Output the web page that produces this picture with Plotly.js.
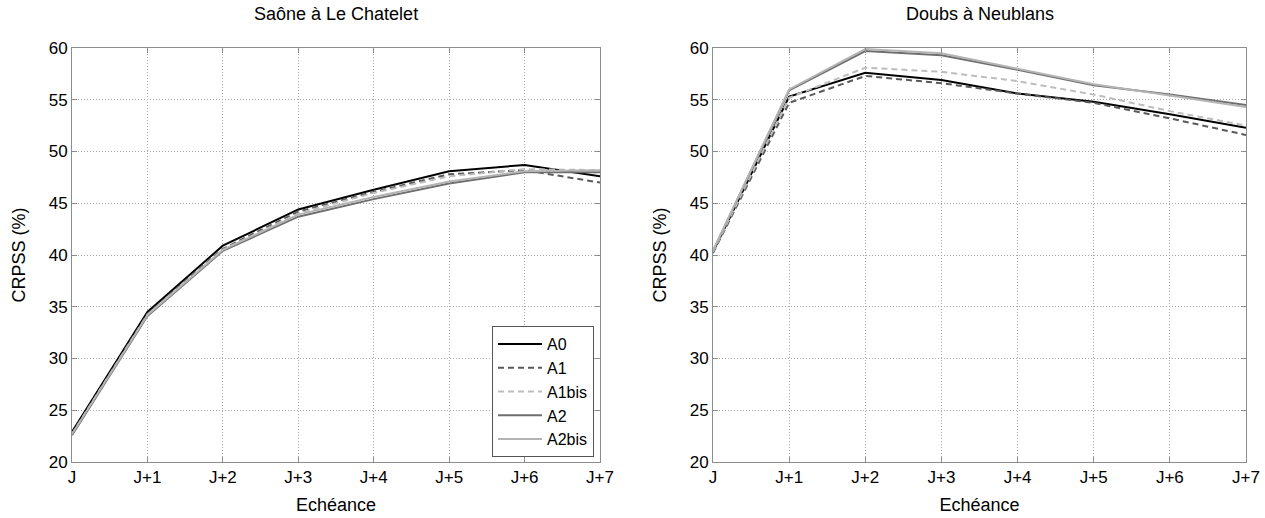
<!DOCTYPE html>
<html>
<head>
<meta charset="utf-8">
<script src="https://cdn.plot.ly/plotly-3.0.1.min.js"></script>
<style>html,body{margin:0;padding:0;background:#fff;}#chart{width:1265px;height:518px;}</style>
</head>
<body>
<div id="chart"></div>
<script>
// ---- data ----
const echeances = ["J", "J+1", "J+2", "J+3", "J+4", "J+5", "J+6", "J+7"];
const seriesNames = ["A0", "A1", "A1bis", "A2", "A2bis"];
const panelTitles = ["Saône à Le Chatelet", "Doubs à Neublans"];

// Saône à Le Chatelet
const saone_A0    = [22.9, 34.5, 40.9, 44.4, 46.3, 48.1, 48.7, 47.6];
const saone_A1    = [22.7, 34.3, 40.6, 44.2, 46.1, 47.8, 48.2, 47.0];
const saone_A1bis = [22.7, 34.2, 40.5, 44.0, 46.0, 47.6, 48.3, 48.2];
const saone_A2    = [22.6, 34.1, 40.4, 43.7, 45.4, 46.9, 48.0, 48.0];
const saone_A2bis = [22.7, 34.2, 40.5, 43.9, 45.6, 47.1, 48.1, 48.2];

// Doubs à Neublans
const doubs_A0    = [40.3, 55.3, 57.6, 56.9, 55.6, 54.8, 53.6, 52.3];
const doubs_A1    = [40.2, 54.7, 57.3, 56.6, 55.6, 54.7, 53.2, 51.6];
const doubs_A1bis = [40.3, 55.2, 58.1, 57.7, 56.8, 55.5, 53.9, 52.5];
const doubs_A2    = [40.4, 55.9, 59.7, 59.3, 57.9, 56.4, 55.5, 54.5];
const doubs_A2bis = [40.4, 56.0, 59.9, 59.5, 58.0, 56.5, 55.4, 54.3];

const yTicks = [20, 25, 30, 35, 40, 45, 50, 55, 60];

// ---- styles ----
const styles = {
  "A0":    {color: "#000000", dash: "solid"},
  "A1":    {color: "#5a5a5a", dash: "6px,4px"},
  "A1bis": {color: "#bdbdbd", dash: "6px,4px"},
  "A2":    {color: "#6e6e6e", dash: "solid"},
  "A2bis": {color: "#b4b4b4", dash: "solid"}
};

const saone = [saone_A0, saone_A1, saone_A1bis, saone_A2, saone_A2bis];
const doubs = [doubs_A0, doubs_A1, doubs_A1bis, doubs_A2, doubs_A2bis];
const xIdx = echeances.map((_, i) => i);

const traces = [];
seriesNames.forEach((name, k) => {
  traces.push({
    x: xIdx, y: saone[k], type: "scatter", mode: "lines", name: name,
    xaxis: "x", yaxis: "y", showlegend: true,
    line: {color: styles[name].color, dash: styles[name].dash, width: 2}
  });
});
seriesNames.forEach((name, k) => {
  traces.push({
    x: xIdx, y: doubs[k], type: "scatter", mode: "lines", name: name,
    xaxis: "x2", yaxis: "y2", showlegend: false,
    line: {color: styles[name].color, dash: styles[name].dash, width: 2}
  });
});

const W = 1265, H = 518;
const fontFam = "Liberation Sans, Arial, Helvetica, sans-serif";
const yTop = 1 - 48 / H, yBot = 1 - 462 / H;
const tickFont = {family: fontFam, size: 17, color: "#000"};
const labFont = {family: fontFam, size: 18, color: "#000"};

function xa(domain) {
  return {
    domain: domain, range: [0, 7], tickmode: "array", tickvals: xIdx, ticktext: echeances,
    showgrid: true, gridcolor: "#a8a8a8", griddash: "1px,2px", gridwidth: 1,
    showline: true, linecolor: "#8c8c8c", linewidth: 1, mirror: "ticks",
    ticks: "inside", ticklen: 5, tickcolor: "#8c8c8c",
    zeroline: false, fixedrange: true,
    tickfont: tickFont,
    title: {text: "Echéance", font: labFont, standoff: 11}
  };
}
function ya(anchor) {
  return {
    domain: [yBot, yTop], range: [20, 60], tickmode: "array", tickvals: yTicks,
    showgrid: true, gridcolor: "#a8a8a8", griddash: "1px,2px", gridwidth: 1,
    showline: true, linecolor: "#8c8c8c", linewidth: 1, mirror: "ticks",
    ticks: "inside", ticklen: 5, tickcolor: "#8c8c8c",
    zeroline: false, fixedrange: true, anchor: anchor,
    tickfont: tickFont,
    title: {text: "CRPSS (%)", font: labFont, standoff: 18}
  };
}

const lx0 = 72 / W, lx1 = 600 / W, rx0 = 713 / W, rx1 = 1246 / W;

const layout = {
  width: W, height: H,
  margin: {l: 0, r: 0, t: 0, b: 0},
  paper_bgcolor: "#fff", plot_bgcolor: "#fff",
  font: {family: fontFam, size: 16, color: "#000"},
  xaxis: Object.assign(xa([lx0, lx1]), {anchor: "y"}),
  yaxis: ya("x"),
  xaxis2: Object.assign(xa([rx0, rx1]), {anchor: "y2"}),
  yaxis2: ya("x2"),
  showlegend: true,
  legend: {
    x: 594 / W, y: 1 - 457 / H, xanchor: "right", yanchor: "bottom",
    xref: "paper", yref: "paper",
    bgcolor: "#fff", bordercolor: "#555", borderwidth: 1,
    font: {family: fontFam, size: 16, color: "#000"},
    tracegroupgap: 0, itemwidth: 44
  },
  annotations: [
    {text: panelTitles[0], x: (lx0 + lx1) / 2, y: 1 - 14 / H, xref: "paper", yref: "paper",
     xanchor: "center", yanchor: "middle", showarrow: false, font: labFont},
    {text: panelTitles[1], x: (rx0 + rx1) / 2, y: 1 - 14 / H, xref: "paper", yref: "paper",
     xanchor: "center", yanchor: "middle", showarrow: false, font: labFont}
  ]
};

Plotly.newPlot("chart", traces, layout, {displayModeBar: false, staticPlot: true});
</script>
</body>
</html>
